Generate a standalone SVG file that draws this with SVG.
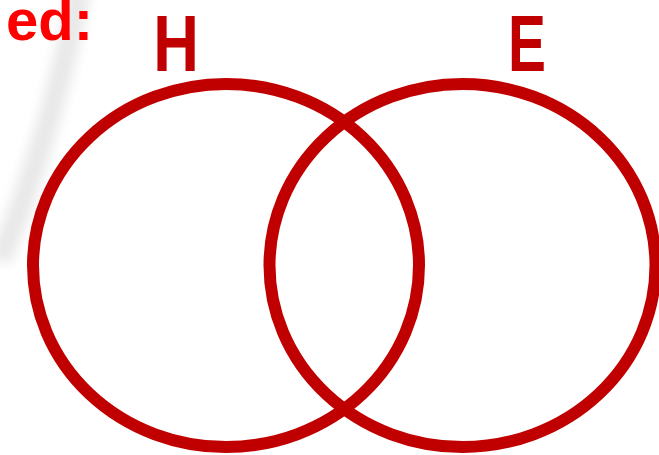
<svg xmlns="http://www.w3.org/2000/svg" width="659" height="455" viewBox="0 0 659 455">
  <defs>
    <filter id="soft" x="-50%" y="-50%" width="200%" height="200%">
      <feGaussianBlur stdDeviation="6"/>
    </filter>
  </defs>
  <style>
    .set { fill: none; stroke: #C00000; stroke-width: 12; }
    .lbl { font-family: "Liberation Sans", Arial, sans-serif; font-weight: bold; font-size: 79px; fill: #C00000; }
    .head { font-family: "Liberation Sans", Arial, sans-serif; font-weight: bold; font-size: 58px; fill: #FF0000; }
  </style>
  <rect width="659" height="455" fill="#ffffff"/>
  <g id="background">
    <path d="M 80 -10 Q 50 140 0 260" fill="none" stroke="#e8e8e8" stroke-width="22" filter="url(#soft)"/>
  </g>
  <g id="heading">
    <text class="head" x="93" y="40" text-anchor="end">ed:</text>
  </g>
  <g id="set-H">
    <ellipse class="set" cx="226" cy="265.5" rx="193" ry="181.5"/>
    <text class="lbl" transform="translate(176,71) scale(0.8,1)" x="0" y="0" text-anchor="middle">H</text>
  </g>
  <g id="set-E">
    <ellipse class="set" cx="462.5" cy="265.5" rx="193" ry="181.5"/>
    <text class="lbl" transform="translate(527,71) scale(0.72,1)" x="0" y="0" text-anchor="middle">E</text>
  </g>
  <g id="connectors"></g>
</svg>
